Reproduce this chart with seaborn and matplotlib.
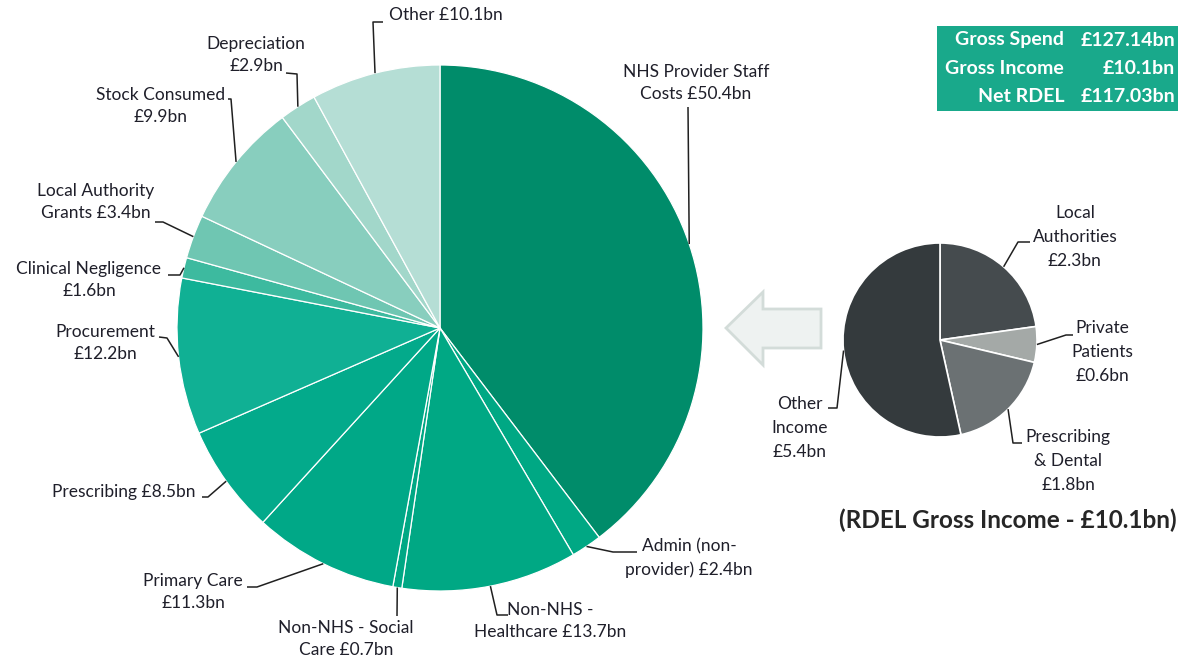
import numpy as np
import matplotlib
matplotlib.use("Agg")
import matplotlib.pyplot as plt
from matplotlib.patches import Polygon, Rectangle
import seaborn as sns

# ---------------- data ----------------
spend_labels = ["NHS Provider Staff\nCosts £50.4bn", "Admin (non-\nprovider) £2.4bn",
                "Non-NHS -\nHealthcare £13.7bn", "Non-NHS - Social\nCare £0.7bn",
                "Primary Care\n£11.3bn", "Prescribing £8.5bn", "Procurement\n£12.2bn",
                "Clinical Negligence\n£1.6bn", "Local Authority\nGrants £3.4bn",
                "Stock Consumed\n£9.9bn", "Depreciation\n£2.9bn", "Other £10.1bn"]
spend_values = [50.4, 2.4, 13.7, 0.7, 11.3, 8.5, 12.2, 1.6, 3.4, 9.9, 2.9, 10.1]

income_labels = ["Local\nAuthorities\n£2.3bn", "Private\nPatients\n£0.6bn",
                 "Prescribing\n& Dental\n£1.8bn", "Other\nIncome\n£5.4bn"]
income_values = [2.3, 0.6, 1.8, 5.4]

summary_names = ["Gross Spend", "Gross Income", "Net RDEL"]
summary_values = ["£127.14bn", "£10.1bn", "£117.03bn"]
income_title = "(RDEL Gross Income - £10.1bn)"

# ---------------- style ----------------
sns.set_theme(style="white")
plt.rcParams["font.family"] = ["Lato", "DejaVu Sans"]

spend_colors = sns.color_palette(["#008C6A", "#00A884", "#00A884", "#00A884", "#00A887",
                                  "#03AA8B", "#10B094", "#3DBA9F", "#6FC6B2", "#88CEBE",
                                  "#A2D7CA", "#B5DED5"])
income_colors = sns.color_palette(["#454B4E", "#A4A9A7", "#6B7173", "#343A3D"])
TXT = "#1f1f2a"

W, H = 1187, 664
fig = plt.figure(figsize=(W / 100, H / 100), dpi=100)
ax = fig.add_axes([0, 0, 1, 1])


def Y(y):
    return H - y


# layout (pixel positions, y measured from top)
big_c, big_r = (440, 328), 263
small_c, small_r = (940, 340), 97

big_text = [(696, 83), (689, 558), (550, 621), (346, 639), (193, 592), (124, 492),
            (105, 343), (89, 280), (96, 202), (161, 106), (256, 55), (446, 15)]
big_elbows = [[(688, 107)], [(613, 552), (637, 552)], [(497, 615), (508, 615)],
              [(397, 616)], [(257, 587), (247, 587)], [(208, 497), (202, 497)],
              [(167, 338), (159, 337)], [(180, 275), (168, 275)],
              [(163, 222), (155, 222)], [(231, 99), (228, 99)],
              [(297, 74), (286, 73)], [(373, 22), (383, 22)]]

small_text = [(1075, 237), (1102, 352), (1068, 461), (800, 428)]
small_elbows = [[(1018, 242), (1030, 242)], [(1066, 335), (1073, 335)],
                [(1013, 443), (1022, 443)], [(837, 408), (828, 408)]]

wedges_big, _ = ax.pie(spend_values, colors=spend_colors, startangle=90, counterclock=False,
                       center=(big_c[0], Y(big_c[1])), radius=big_r,
                       wedgeprops=dict(edgecolor="white", linewidth=0.9))
wedges_small, _ = ax.pie(income_values, colors=income_colors, startangle=90, counterclock=False,
                         center=(small_c[0], Y(small_c[1])), radius=small_r,
                         wedgeprops=dict(edgecolor="white", linewidth=1.2))


def leaders(wedges, c, r, texts, elbows, labels, fs, ls):
    for w, t, el, lab in zip(wedges, texts, elbows, labels):
        mid = np.deg2rad((w.theta1 + w.theta2) / 2)
        ax_x = c[0] + r * np.cos(mid)
        ax_y = Y(c[1]) + r * np.sin(mid)
        xs = [ax_x] + [p[0] for p in el]
        ys = [ax_y] + [Y(p[1]) for p in el]
        ax.plot(xs, ys, color="#202020", lw=1.1, solid_capstyle="butt")
        ax.text(t[0], Y(t[1]), lab, ha="center", va="center", multialignment="center",
                fontsize=fs, color=TXT, linespacing=ls)


leaders(wedges_big, big_c, big_r, big_text, big_elbows, spend_labels, 12.5, 1.5)
leaders(wedges_small, small_c, small_r, small_text, small_elbows, income_labels, 12.5, 1.62)

# arrow
arrow_pts = [(726, 328), (763, 292), (763, 309), (821, 309), (821, 348), (763, 348), (763, 365)]
ax.add_patch(Polygon([(x, Y(y)) for x, y in arrow_pts], closed=True,
                     facecolor="#EEF2F1", edgecolor="#D3DCD9", lw=2, zorder=0))

# summary box
ax.add_patch(Rectangle((937, Y(111)), 241, 85, facecolor="#19A98B", edgecolor="none"))
for i, (n, v) in enumerate(zip(summary_names, summary_values)):
    yy = Y(40 + i * 28)
    ax.text(1064, yy, n, ha="right", va="center", fontsize=14, fontweight="bold", color="white")
    ax.text(1175, yy, v, ha="right", va="center", fontsize=14, fontweight="bold", color="white")

ax.text(1008, Y(520), income_title, ha="center", va="center", fontsize=17.5,
        fontweight="bold", color="#262626")

ax.set_xlim(0, W)
ax.set_ylim(0, H)
ax.set_aspect("equal")
ax.axis("off")
fig.savefig("out.png", dpi=100, facecolor="white")
